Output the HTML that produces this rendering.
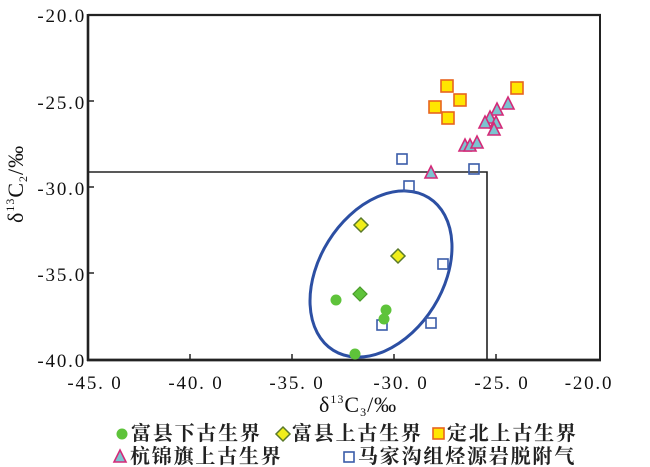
<!DOCTYPE html>
<html><head><meta charset="utf-8"><style>
html,body{margin:0;padding:0;background:#fff;}
svg{display:block;}
.num{font-family:"Liberation Serif",serif;font-size:19px;fill:#111;letter-spacing:1.8px;}
.cjk{font-family:"Liberation Serif","Noto Serif CJK SC",serif;font-size:20px;font-weight:bold;fill:#222;letter-spacing:1.8px;}
.ttl{font-family:"Liberation Serif",serif;font-size:22px;fill:#111;letter-spacing:1px;}
</style></head><body>
<svg width="650" height="467" viewBox="0 0 650 467" xmlns="http://www.w3.org/2000/svg">
<rect width="650" height="467" fill="#fff"/>
<!-- frame -->
<line x1="88" y1="15" x2="601" y2="15" stroke="#222" stroke-width="2.2"/>
<line x1="600" y1="15" x2="600" y2="360" stroke="#222" stroke-width="2"/>
<line x1="88" y1="14" x2="88" y2="361" stroke="#222" stroke-width="2.6"/>
<line x1="87" y1="360" x2="601" y2="360" stroke="#222" stroke-width="2.8"/>
<!-- ticks -->
<g stroke="#222" stroke-width="1.5">
<line x1="190" y1="360" x2="190" y2="354"/>
<line x1="292" y1="360" x2="292" y2="354"/>
<line x1="394" y1="360" x2="394" y2="354"/>
<line x1="496" y1="360" x2="496" y2="354"/>
<line x1="88" y1="101" x2="94" y2="101"/>
<line x1="88" y1="187" x2="94" y2="187"/>
<line x1="88" y1="273" x2="94" y2="273"/>
</g>
<!-- inner box -->
<polyline points="88,172 487,172 487,360" fill="none" stroke="#222" stroke-width="1.6"/>
<!-- y labels -->
<g class="num" text-anchor="end">
<text x="86" y="22">-20.0</text>
<text x="86" y="109">-25.0</text>
<text x="86" y="195">-30.0</text>
<text x="86" y="281">-35.0</text>
<text x="86" y="367">-40.0</text>
</g>
<!-- x labels -->
<g class="num" text-anchor="middle">
<text x="95" y="389">-45. 0</text>
<text x="196" y="389">-40. 0</text>
<text x="297" y="389">-35. 0</text>
<text x="401" y="389">-30. 0</text>
<text x="502" y="389">-25. 0</text>
<text x="589" y="389">-20.0</text>
</g>
<!-- axis titles -->
<text class="ttl" x="319" y="412">δ<tspan font-size="12" dy="-9">13</tspan><tspan dy="9">C</tspan><tspan font-size="12" dy="4">3</tspan><tspan dy="-4">/‰</tspan></text>
<text class="ttl" transform="translate(23,223) rotate(-90)">δ<tspan font-size="12" dy="-9">13</tspan><tspan dy="9">C</tspan><tspan font-size="12" dy="4">2</tspan><tspan dy="-4">/‰</tspan></text>
<!-- ellipse -->
<ellipse cx="381" cy="274" rx="90" ry="62" transform="rotate(-58 381 274)" fill="none" stroke="#2c4fa3" stroke-width="3"/>
<!-- open blue squares -->
<g fill="none" stroke="#3a5ba8" stroke-width="1.6">
<rect x="397" y="154" width="10" height="10"/>
<rect x="469" y="164" width="10" height="10"/>
<rect x="404" y="181" width="10" height="10"/>
<rect x="438" y="259" width="10" height="10"/>
<rect x="426" y="318" width="10" height="10"/>
<rect x="377" y="320" width="10" height="10"/>
</g>
<!-- green circles -->
<g fill="#5ec33a">
<circle cx="336" cy="300" r="5.5"/>
<circle cx="386" cy="310" r="5.5"/>
<circle cx="384" cy="319" r="5.5"/>
<circle cx="355" cy="354" r="5.5"/>
</g>
<polygon points="360,287 367,294 360,301 353,294" fill="#5ec33a" stroke="#4a9a2a" stroke-width="1.2"/>
<!-- yellow diamonds -->
<g fill="#f0ee1a" stroke="#5a7a2a" stroke-width="1.5">
<polygon points="361,218 368,225 361,232 354,225"/>
<polygon points="398,249 405,256 398,263 391,256"/>
</g>
<!-- yellow squares -->
<g fill="#ffe600" stroke="#e8641e" stroke-width="1.6">
<rect x="441" y="80" width="12" height="12"/>
<rect x="454" y="94" width="12" height="12"/>
<rect x="429" y="101" width="12" height="12"/>
<rect x="442" y="112" width="12" height="12"/>
<rect x="511" y="82" width="12" height="12"/>
</g>
<!-- triangles -->
<g fill="#7cc4d0" stroke="#d42a78" stroke-width="1.6">
<polygon points="508,97 514,109 502,109"/>
<polygon points="497,103 503,115 491,115"/>
<polygon points="490,111 496,123 484,123"/>
<polygon points="485,116 491,128 479,128"/>
<polygon points="496,116 502,128 490,128"/>
<polygon points="494,123 500,135 488,135"/>
<polygon points="465,139 471,151 459,151"/>
<polygon points="470,139 476,151 464,151"/>
<polygon points="477,136 483,148 471,148"/>
<polygon points="431,166 437,178 425,178"/>
</g>
<!-- legend -->
<circle cx="122" cy="434" r="5.5" fill="#5ec33a"/>
<text class="cjk" x="131" y="440">富县下古生界</text>
<polygon points="283,427 290,434 283,441 276,434" fill="#f0ee1a" stroke="#5a7a2a" stroke-width="1.5"/>
<text class="cjk" x="292" y="440">富县上古生界</text>
<rect x="433" y="428" width="11" height="11" fill="#ffe600" stroke="#e8641e" stroke-width="1.6"/>
<text class="cjk" x="447" y="440">定北上古生界</text>
<polygon points="120,450 126,462 114,462" fill="#7cc4d0" stroke="#d42a78" stroke-width="1.6"/>
<text class="cjk" x="130" y="463">杭锦旗上古生界</text>
<rect x="344" y="452" width="10" height="10" fill="none" stroke="#3a5ba8" stroke-width="1.6"/>
<text class="cjk" x="358" y="463">马家沟组烃源岩脱附气</text>
</svg>
</body></html>
